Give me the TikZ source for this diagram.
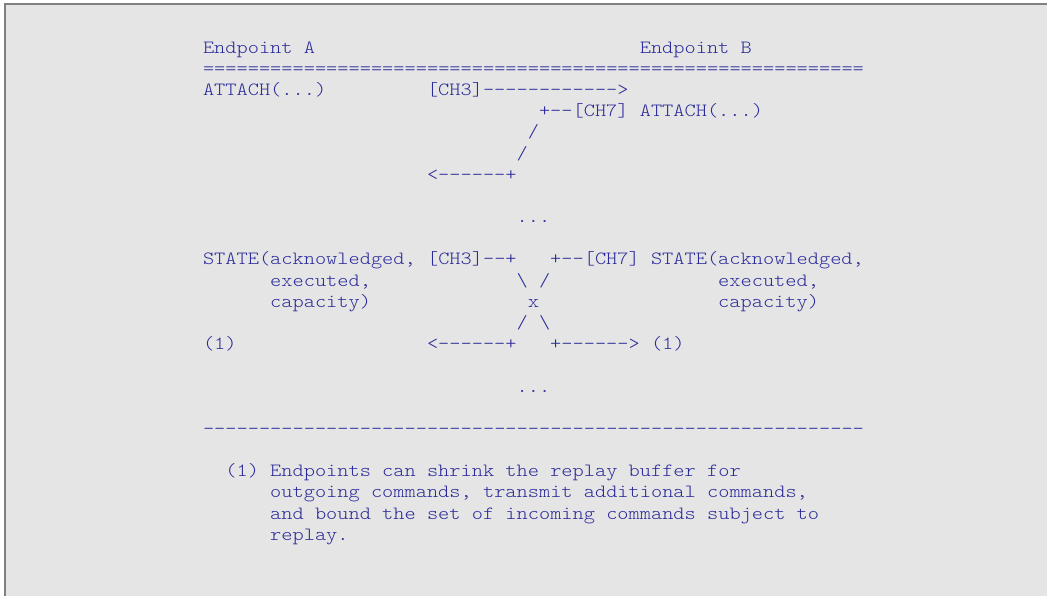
\documentclass[tikz,border=0pt]{standalone}
\usepackage{fontspec}
\setmonofont{Latin Modern Mono Light}[FakeStretch=1.1429]
\definecolor{bgc}{HTML}{E5E5E5}
\definecolor{frc}{HTML}{808080}
\definecolor{txc}{HTML}{2A2A9A}
\newcommand{\cw}{11.2}
\newcommand{\lh}{21.17}
\newcommand{\tline}[4]{\node[txt] (#1) at ({203+#2*\cw},{53.3+#3*\lh}) {#4};}
\begin{document}
\begin{tikzpicture}[x=1pt,y=-1pt,
  txt/.style={anchor=base west,inner sep=0pt,outer sep=0pt,text=txc,
    font=\fontsize{18.67pt}{21.17pt}\selectfont\ttfamily\frenchspacing}]
\useasboundingbox (0,0) rectangle (1047,596);
\fill[white] (0,0) rectangle (1047,596);
\fill[bgc] (5,4) rectangle (1047,596);
\draw[frc,line width=1.5pt] (5,596) -- (5,4) -- (1047,4);
% header
\tline{epa}{0}{0}{Endpoint A}
\tline{epb}{39}{0}{Endpoint B}
\tline{eqline}{0}{1}{===========================================================}
% attach exchange
\tline{atta}{0}{2}{ATTACH(...)}
\tline{cha}{20}{2}{[CH3]------------>}
\tline{chb}{30}{3}{+--[CH7] ATTACH(...)}
\tline{sla}{29}{4}{/}
\tline{slb}{28}{5}{/}
\tline{reta}{20}{6}{<------+}
\tline{dots1}{28}{8}{...}
% state exchange
\tline{sta}{0}{10}{STATE(acknowledged, [CH3]--+}
\tline{stb}{31}{10}{+--[CH7] STATE(acknowledged,}
\tline{exa}{6}{11}{executed,}
\tline{xup}{28}{11}{\textbackslash{} /}
\tline{exb}{46}{11}{executed,}
\tline{capa}{6}{12}{capacity)}
\tline{xmid}{29}{12}{x}
\tline{capb}{46}{12}{capacity)}
\tline{xdn}{28}{13}{/ \textbackslash}
\tline{fna}{0}{14}{(1)}
\tline{retb}{20}{14}{<------+}
\tline{retc}{31}{14}{+------> (1)}
\tline{dots2}{28}{16}{...}
\tline{dashline}{0}{18}{-----------------------------------------------------------}
% footnote
\tline{fn1}{2}{20}{(1) Endpoints can shrink the replay buffer for}
\tline{fn2}{6}{21}{outgoing commands, transmit additional commands,}
\tline{fn3}{6}{22}{and bound the set of incoming commands subject to}
\tline{fn4}{6}{23}{replay.}
\end{tikzpicture}
\end{document}
